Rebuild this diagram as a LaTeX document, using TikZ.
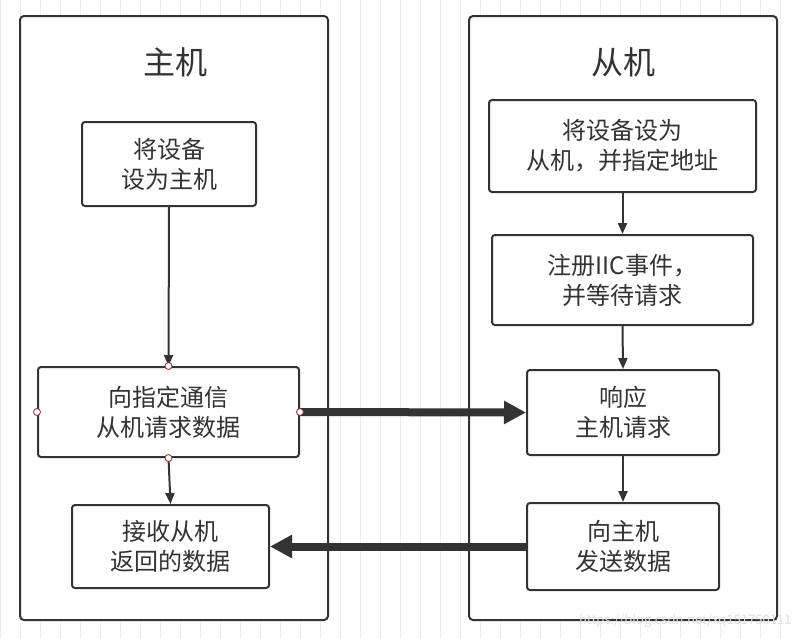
\documentclass[tikz,border=0pt]{standalone}
\usepackage{fontspec}
\setmainfont{Noto Sans CJK SC}
\usetikzlibrary{arrows.meta}
\definecolor{ln}{HTML}{333333}
\begin{document}
\begin{tikzpicture}[x=1pt,y=-1pt,
  box/.style={draw=ln,line width=2pt,rounded corners=3pt,fill=white,align=center,font=\fontsize{24}{30}\selectfont,text=ln,inner sep=0pt},
  cont/.style={draw=ln,line width=2pt,rounded corners=4pt,fill=white},
  thin/.style={draw=ln,line width=2pt,-{Triangle[length=11pt,width=9pt]}},
  thick/.style={draw=ln,line width=8pt,-{Triangle[length=22pt,width=22pt]}},
  pt/.style={circle,draw={rgb,255:red,150;green,40;blue,40},fill=white,line width=0.8pt,inner sep=0pt,minimum size=7pt}]
\useasboundingbox (0,0) rectangle (795,638);
\fill[white] (0,0) rectangle (795,638);
\draw[black!7,line width=0.5pt,step=20] (0,0) grid (795,638);
\draw[cont] (20,16) rectangle (328,620);
\draw[cont] (469,16) rectangle (777,620);
\node[font=\fontsize{32}{36}\selectfont,text=ln] (t1) at (175,62) {主机};
\node[font=\fontsize{32}{36}\selectfont,text=ln] (t2) at (623,62) {从机};
\node[box,minimum width=174pt,minimum height=84pt] (L1) at (169,164) {将设备\\设为主机};
\node[box,minimum width=261pt,minimum height=90pt] (L2) at (168.5,412) {向指定通信\\从机请求数据};
\node[box,minimum width=197pt,minimum height=83pt] (L3) at (170.5,546.5) {接收从机\\返回的数据};
\node[box,minimum width=267pt,minimum height=92pt] (R1) at (622.5,146) {将设备设为\\从机，并指定地址};
\node[box,minimum width=261pt,minimum height=90pt] (R2) at (622.5,280) {注册IIC事件，\\并等待请求};
\node[box,minimum width=192pt,minimum height=85pt] (R3) at (623,412.5) {响应\\主机请求};
\node[box,minimum width=192pt,minimum height=87pt] (R4) at (623,546.5) {向主机\\发送数据};
\draw[thin] (L1.south) -- (L2.north);
\draw[thin] (L2.south) -- (L3.north);
\draw[thin] (R1.south) -- (R2.north);
\draw[thin] (R2.south) -- (R3.north);
\draw[thin] (R3.south) -- (R4.north);
\draw[thick] (L2.east) -- (R3.west);
\draw[thick] (R4.west) -- (L3.east);
\foreach \a in {north,south,east,west} \node[pt] at (L2.\a) {};
\node[text=black!12,font=\fontsize{13}{14}\selectfont,anchor=east] (wm) at (795,621) {https://blog.csdn.net/xq151750111};
\end{tikzpicture}
\end{document}
